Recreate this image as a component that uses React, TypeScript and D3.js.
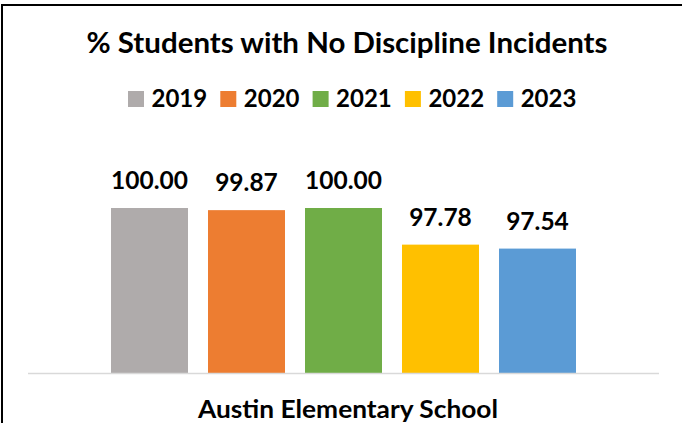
import React, { useEffect, useRef } from 'react';
import * as d3 from 'd3';

const years = ['2019', '2020', '2021', '2022', '2023'];
const values = [100.0, 99.87, 100.0, 97.78, 97.54];
const colors = ['#AFABAB', '#ED7D31', '#70AD47', '#FFC000', '#5B9BD5'];
const category = 'Austin Elementary School';
const title = '% Students with No Discipline Incidents';

const FONT = 'Lato, Calibri, "Liberation Sans", sans-serif';

export default function App() {
  const ref = useRef<SVGSVGElement>(null);

  useEffect(() => {
    const svg = d3.select(ref.current);
    svg.selectAll('*').remove();

    const baseY = 373;

    // outer chart border (only top and left edges are inside the crop)
    svg.append('rect')
      .attr('x', 2).attr('y', 5)
      .attr('width', 800).attr('height', 600)
      .attr('fill', 'white')
      .attr('stroke', '#000').attr('stroke-width', 2);

    svg.append('text')
      .attr('x', 347).attr('y', 53)
      .attr('text-anchor', 'middle')
      .attr('font-family', FONT).attr('font-weight', 700)
      .attr('font-size', 29)
      .attr('textLength', 521).attr('lengthAdjust', 'spacingAndGlyphs')
      .text(title);

    // legend
    const legend = svg.append('g');
    const step = 92.3;
    years.forEach((yr, i) => {
      const lx = 128 + i * step;
      legend.append('rect')
        .attr('x', lx).attr('y', 91)
        .attr('width', 16).attr('height', 16)
        .attr('fill', colors[i]);
      legend.append('text')
        .attr('x', lx + 23.5).attr('y', 107)
        .attr('font-family', FONT).attr('font-weight', 700)
        .attr('font-size', 24)
        .text(yr);
    });

    const x = d3.scaleBand<string>()
      .domain(years)
      .range([111, 576])
      .paddingInner(20 / 97)
      .paddingOuter(0);
    const y = d3.scaleLinear().domain([90, 102]).range([baseY, baseY - 12 * 16.5]);

    svg.selectAll('rect.bar')
      .data(values)
      .enter()
      .append('rect')
      .attr('class', 'bar')
      .attr('x', (d, i) => x(years[i])!)
      .attr('y', (d) => y(d))
      .attr('width', x.bandwidth())
      .attr('height', (d) => baseY - y(d))
      .attr('fill', (d, i) => colors[i]);

    svg.selectAll('text.val')
      .data(values)
      .enter()
      .append('text')
      .attr('class', 'val')
      .attr('x', (d, i) => x(years[i])! + x.bandwidth() / 2)
      .attr('y', (d) => y(d) - 19)
      .attr('text-anchor', 'middle')
      .attr('font-family', FONT).attr('font-weight', 700)
      .attr('font-size', 24.5)
      .text((d) => d.toFixed(2));

    // category axis line
    svg.append('line')
      .attr('x1', 28).attr('x2', 659)
      .attr('y1', baseY + 0.5).attr('y2', baseY + 0.5)
      .attr('stroke', '#D9D9D9').attr('stroke-width', 1.5);

    svg.append('text')
      .attr('x', 348).attr('y', 418)
      .attr('text-anchor', 'middle')
      .attr('font-family', FONT).attr('font-weight', 700)
      .attr('font-size', 24)
      .attr('textLength', 300).attr('lengthAdjust', 'spacingAndGlyphs')
      .text(category);
  }, []);

  return (
    <svg ref={ref} width={682} height={423}
      style={{ position: 'absolute', left: 0, top: 0, background: 'white' }} />
  );
}
